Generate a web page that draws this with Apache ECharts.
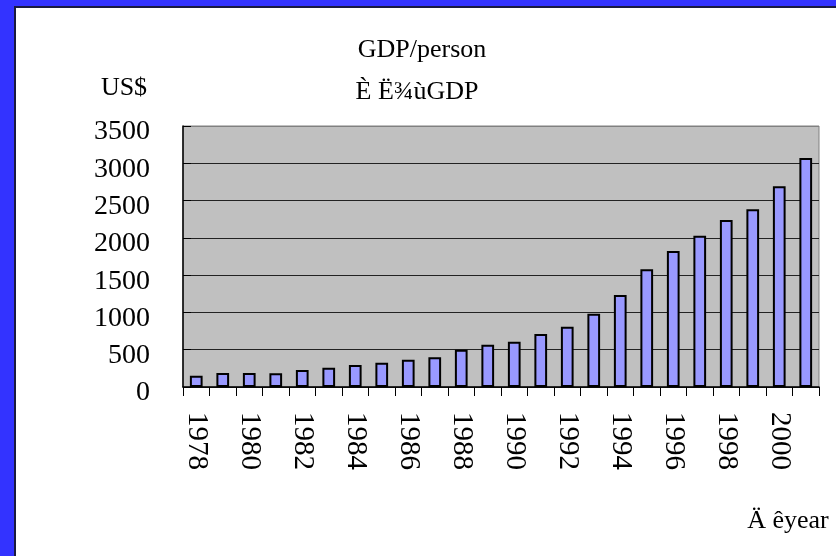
<!DOCTYPE html>
<html>
<head>
<meta charset="utf-8">
<script src="https://cdn.jsdelivr.net/npm/echarts@6/dist/echarts.min.js"></script>
<style>
  html, body { margin: 0; padding: 0; background: #3333FF; width: 836px; height: 556px; overflow: hidden; }
  #frame { position: absolute; left: 14px; top: 6px; width: 822px; height: 550px; background: #ffffff; border-left: 2px solid #1a1a40; border-top: 2px solid #1a1a40; box-sizing: border-box; }
  #chart { position: absolute; left: 0; top: 0; width: 836px; height: 556px; }
</style>
</head>
<body>
<div id="frame"></div>
<div id="chart"></div>
<script>
const years = ['1978','1979','1980','1981','1982','1983','1984','1985','1986','1987','1988','1989',
               '1990','1991','1992','1993','1994','1995','1996','1997','1998','1999','2000','2001'];
const gdpPerPerson = [152, 188, 188, 186, 228, 259, 295, 326, 366, 398, 500, 567,
                      608, 711, 809, 983, 1234, 1578, 1824, 2029, 2240, 2383, 2691, 3071];
const yTicks = [0, 500, 1000, 1500, 2000, 2500, 3000, 3500];
const titleText = 'GDP/person';
const subtitleText = 'È Ë¾ùGDP';
const unitText = 'US$';
const xNameText = 'Ä êyear';

const FONT = "'Liberation Serif', 'Times New Roman', serif";
const chart = echarts.init(document.getElementById('chart'), null, { renderer: 'canvas' });
chart.setOption({
  backgroundColor: 'transparent',
  animation: false,
  title: [
    { text: titleText, left: 417, top: 32, textAlign: 'center',
      textStyle: { fontFamily: FONT, fontSize: 26, fontWeight: 'normal', color: '#000' } },
    { text: subtitleText, left: 412, top: 74, textAlign: 'center',
      textStyle: { fontFamily: FONT, fontSize: 26, fontWeight: 'normal', color: '#000' } },
    { text: unitText, left: 119, top: 70, textAlign: 'center',
      textStyle: { fontFamily: FONT, fontSize: 26, fontWeight: 'normal', color: '#000' } },
    { text: xNameText, left: 783, top: 503, textAlign: 'center',
      textStyle: { fontFamily: FONT, fontSize: 26, fontWeight: 'normal', color: '#000' } }
  ],
  grid: { left: 183, top: 126, right: 17, bottom: 169, show: true, backgroundColor: '#C0C0C0', borderColor: '#808080', borderWidth: 1 },
  xAxis: {
    type: 'category',
    data: years,
    axisLine: { lineStyle: { color: '#000', width: 1.5 } },
    axisTick: { show: true, alignWithLabel: false, interval: 0, length: 9, lineStyle: { color: '#000' } },
    axisLabel: { interval: 1, rotate: -90, margin: 25, fontFamily: FONT, fontSize: 29, color: '#000' },
    splitLine: { show: false }
  },
  yAxis: {
    type: 'value',
    min: yTicks[0],
    max: yTicks[yTicks.length - 1],
    interval: 500,
    axisLine: { show: true, lineStyle: { color: '#000', width: 1.5 } },
    axisTick: { show: true, inside: true, length: 8, lineStyle: { color: '#000' } },
    axisLabel: { margin: 33, fontFamily: FONT, fontSize: 28, color: '#000',
                 verticalAlign: 'top', lineHeight: 12,
                 formatter: function (v) { return String(v); } },
    splitLine: { show: true, lineStyle: { color: ['#222','#222','#222','#222','#222','#222','#222','#808080'], width: 1 } }
  },
  series: [{
    type: 'bar',
    data: gdpPerPerson,
    barWidth: '48%',
    itemStyle: { color: '#9999FF', borderColor: '#000', borderWidth: 2 }
  }]
});
</script>
</body>
</html>
